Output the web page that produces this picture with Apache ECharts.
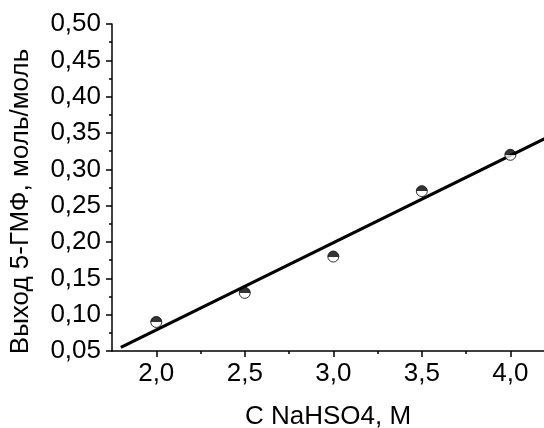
<!DOCTYPE html>
<html>
<head>
<meta charset="utf-8">
<script src="https://cdn.jsdelivr.net/npm/echarts@6/dist/echarts.min.js"></script>
<style>
    html, body { margin: 0; padding: 0; background: #fff; }
    #chart { width: 544px; height: 428px; }
</style>
</head>
<body>
<div id="chart"></div>
<script>
// данные
const concentrations = [2.0, 2.5, 3.0, 3.5, 4.0];
const hmfYield = [0.09, 0.13, 0.18, 0.27, 0.32];
const fitX = [1.8, 4.25];
const fitY = [0.055, 0.349];
const xMajorTicks = [2.0, 2.5, 3.0, 3.5, 4.0];
const xMinorTicks = [2.25, 2.75, 3.25, 3.75];

const FONT = 'Liberation Sans, Arial, sans-serif';

document.addEventListener('DOMContentLoaded', function() {
    const myChart = echarts.init(document.getElementById('chart'));

    // верхняя половина маркера чёрная, нижняя белая
    const halfFill = new echarts.graphic.LinearGradient(0, 0, 0, 1, [
        { offset: 0, color: '#000' },
        { offset: 0.5, color: '#000' },
        { offset: 0.5, color: '#fff' },
        { offset: 1, color: '#fff' }
    ]);

    const axisLine = { lineStyle: { color: '#000', width: 1.5 } };

    const option = {
        animation: false,
        grid: {
            left: 112,
            right: 0,
            top: 24,
            bottom: 77,
            outerBoundsMode: 'none'
        },
        xAxis: [
            {
                type: 'value',
                min: 1.75,
                max: 4.19,
                name: 'C NaHSO4, M',
                nameLocation: 'middle',
                nameGap: 53,
                nameTextStyle: { fontFamily: FONT, fontSize: 26, color: '#000' },
                axisLine: axisLine,
                axisTick: {
                    show: true,
                    length: 6,
                    customValues: xMajorTicks,
                    lineStyle: { color: '#000', width: 1.5 }
                },
                axisLabel: {
                    customValues: xMajorTicks,
                    margin: 10,
                    fontFamily: FONT,
                    fontSize: 26,
                    color: '#000',
                    formatter: function(v) { return v.toFixed(1).replace('.', ','); }
                },
                splitLine: { show: false }
            },
            {
                type: 'value',
                min: 1.75,
                max: 4.19,
                position: 'bottom',
                axisLine: { show: false },
                axisTick: {
                    show: true,
                    length: 3,
                    customValues: xMinorTicks,
                    lineStyle: { color: '#000', width: 1.5 }
                },
                axisLabel: { show: false },
                splitLine: { show: false }
            }
        ],
        yAxis: {
            type: 'value',
            min: 0.05,
            max: 0.5,
            interval: 0.05,
            name: 'Выход 5-ГМФ, моль/моль',
            nameLocation: 'middle',
            nameGap: 78,
            nameTextStyle: { fontFamily: FONT, fontSize: 26, color: '#000', padding: [0, 28, 0, 0] },
            axisLine: { show: true, lineStyle: { color: '#000', width: 1.5 } },
            axisTick: { show: true, length: 6, lineStyle: { color: '#000', width: 1.5 } },
            minorTick: { show: true, splitNumber: 2, length: 3, lineStyle: { color: '#000', width: 1.5 } },
            axisLabel: {
                margin: 11,
                fontFamily: FONT,
                fontSize: 26,
                color: '#000',
                formatter: function(v) { return v.toFixed(2).replace('.', ','); }
            },
            splitLine: { show: false }
        },
        series: [
            {
                name: 'fit',
                type: 'line',
                data: fitX.map(function(x, i) { return [x, fitY[i]]; }),
                showSymbol: false,
                lineStyle: { color: '#000', width: 3.2 },
                z: 2
            },
            {
                name: 'yield',
                type: 'scatter',
                data: concentrations.map(function(x, i) { return [x, hmfYield[i]]; }),
                symbol: 'circle',
                symbolSize: 11,
                itemStyle: {
                    color: halfFill,
                    borderColor: '#000',
                    borderWidth: 1
                },
                z: 3
            }
        ]
    };

    myChart.setOption(option);

    window.addEventListener('resize', function() {
        myChart.resize();
    });
});
</script>
</body>
</html>
